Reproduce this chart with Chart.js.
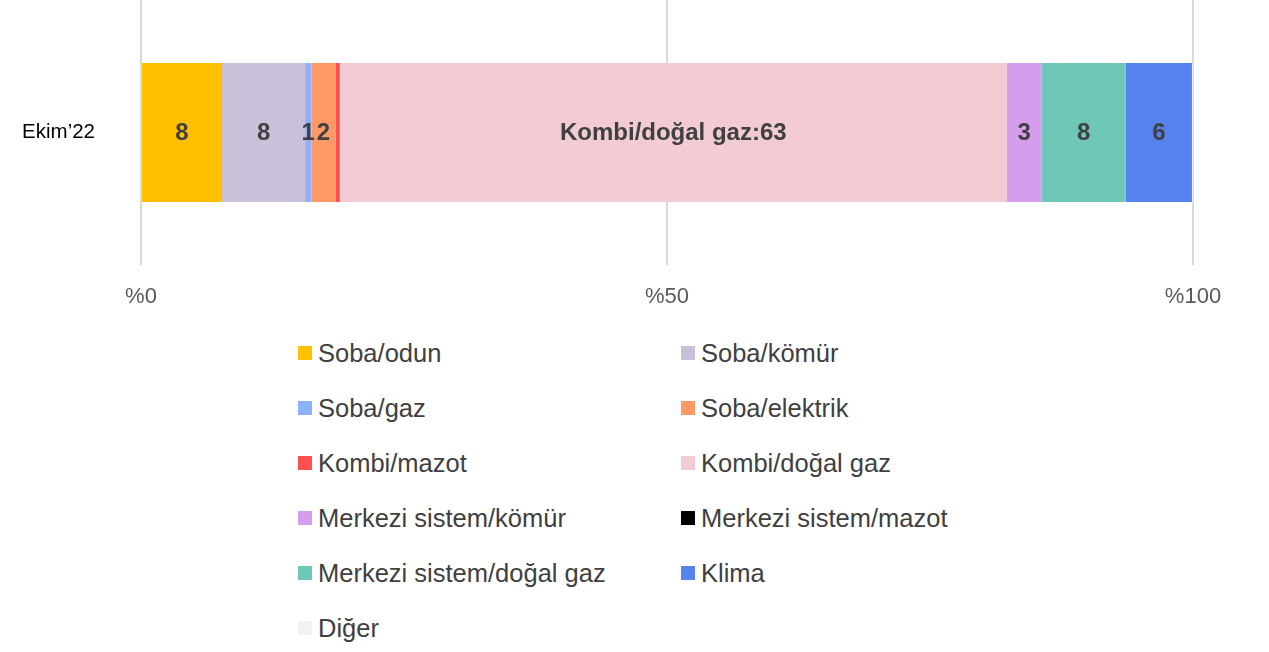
<!DOCTYPE html>
<html lang="tr">
<head>
<meta charset="utf-8">
<title>Isınma kaynağı - Ekim'22</title>
<script src="https://cdn.jsdelivr.net/npm/chart.js@4.4.0/dist/chart.umd.min.js"></script>
<style>
    html, body {
        margin: 0;
        padding: 0;
        background: #ffffff;
        width: 1269px;
        height: 652px;
        overflow: hidden;
        font-family: 'Liberation Sans', Arial, sans-serif;
    }
    #chartBox {
        position: absolute;
        left: 0;
        top: 0;
        width: 1269px;
        height: 320px;
    }
    #legend {
        position: absolute;
        left: 298px;
        top: 338px;
        display: grid;
        grid-template-columns: 383px 300px;
        grid-auto-rows: 55px;
    }
    .legend-item {
        display: flex;
        align-items: center;
        height: 30px;
        font-size: 25.5px;
        color: #404040;
        line-height: 30px;
        white-space: nowrap;
    }
    .legend-box {
        width: 14px;
        height: 14px;
        margin-right: 6px;
        flex: none;
    }
</style>
</head>
<body>
<div id="chartBox"><canvas id="heatChart"></canvas></div>
<div id="legend"></div>

<script>
// Data
const categories = ['Ekim\u201922'];
const seriesNames = [
    'Soba/odun', 'Soba/kömür', 'Soba/gaz', 'Soba/elektrik', 'Kombi/mazot',
    'Kombi/doğal gaz', 'Merkezi sistem/kömür', 'Merkezi sistem/mazot',
    'Merkezi sistem/doğal gaz', 'Klima', 'Diğer'
];
const seriesValues = [7.7, 7.9, 0.6, 2.3, 0.4, 63.4, 3.3, 0, 8.0, 6.3, 0.1];
const seriesColors = [
    '#FFC000', '#CBC0DA', '#8EB2F8', '#FF9A66', '#FF5050',
    '#F2CBD3', '#D49EEC', '#000000', '#6FC7B8', '#5683EE', '#F2F2F2'
];
const tickLabels = ['%0', '%50', '%100'];
const tickValues = [0, 50, 100];

// Inline data labels (no datalabels plugin available)
const barLabels = {
    id: 'barLabels',
    afterDatasetsDraw(chart) {
        const ctx = chart.ctx;
        ctx.save();
        ctx.font = 'bold 24px "Liberation Sans", Arial, sans-serif';
        ctx.fillStyle = '#404040';
        ctx.textAlign = 'center';
        ctx.textBaseline = 'middle';
        chart.data.datasets.forEach((ds, i) => {
            const meta = chart.getDatasetMeta(i);
            const v = Math.round(ds.data[0]);
            if (v < 1) return;
            const bar = meta.data[0];
            const cx = (bar.x + bar.base) / 2;
            const text = ds.label === 'Kombi/doğal gaz' ? ds.label + ':' + v : String(v);
            ctx.fillText(text, cx, bar.y + 1);
        });
        ctx.restore();
    }
};

// Build chart
const datasets = seriesNames.map((name, i) => ({
    label: name,
    data: [seriesValues[i]],
    backgroundColor: seriesColors[i],
    borderWidth: 0,
    categoryPercentage: 1,
    barPercentage: 0.525
}));

new Chart(document.getElementById('heatChart'), {
    type: 'bar',
    data: { labels: categories, datasets: datasets },
    options: {
        indexAxis: 'y',
        responsive: true,
        maintainAspectRatio: false,
        animation: false,
        layout: { padding: { left: 0, right: 76, top: 0, bottom: 0 } },
        plugins: {
            legend: { display: false },
            tooltip: { enabled: false }
        },
        scales: {
            x: {
                stacked: true,
                min: 0,
                max: 100,
                afterBuildTicks: (axis) => {
                    axis.ticks = tickValues.map(v => ({ value: v }));
                },
                afterFit: (axis) => {
                    axis.height = 55;
                    axis.paddingLeft = 0;
                    axis.paddingRight = 0;
                },
                border: { display: false },
                grid: { color: '#D9D9D9', lineWidth: 2, drawTicks: false },
                ticks: {
                    padding: 19,
                    color: '#595959',
                    font: { family: '"Liberation Sans", Arial, sans-serif', size: 22 },
                    callback: (value) => tickLabels[tickValues.indexOf(value)]
                }
            },
            y: {
                stacked: true,
                afterFit: (axis) => {
                    axis.width = 141;
                    axis.paddingTop = 0;
                    axis.paddingBottom = 0;
                },
                border: { display: false },
                grid: { display: false, drawTicks: false },
                ticks: {
                    padding: 46,
                    color: '#000000',
                    font: { family: '"Liberation Sans", Arial, sans-serif', size: 20.5 }
                }
            }
        }
    },
    plugins: [barLabels]
});

// HTML legend in two columns
const legendEl = document.getElementById('legend');
seriesNames.forEach((name, i) => {
    const item = document.createElement('div');
    item.className = 'legend-item';
    const box = document.createElement('span');
    box.className = 'legend-box';
    box.style.background = seriesColors[i];
    const text = document.createElement('span');
    text.textContent = name;
    item.appendChild(box);
    item.appendChild(text);
    legendEl.appendChild(item);
});
</script>
</body>
</html>
